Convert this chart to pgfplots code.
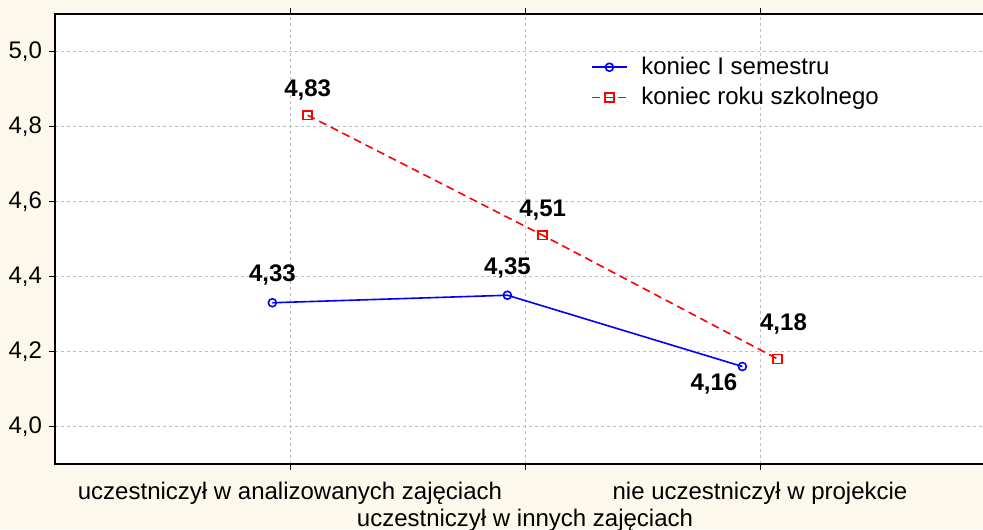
\documentclass[border=0pt]{standalone}
\usepackage{pgfplots}
\pgfplotsset{compat=1.18}
\usepackage{fontspec}
\setmainfont{Liberation Sans}
\definecolor{bgcream}{RGB}{253,248,236}
\definecolor{gridgray}{RGB}{190,190,190}

\begin{document}
\begin{tikzpicture}
\fill[bgcream] (-27.5pt,-32.5pt) rectangle (470pt,232pt);
\begin{axis}[
  scale only axis, width=470pt, height=225pt,
  xmin=0, xmax=4, ymin=3.9, ymax=5.1,
  axis background/.style={fill=white},
  axis line style={line width=1pt},
  xtick={1,2,3},
  xticklabels={{\strut uczestniczył w analizowanych zajęciach},
    {\strut\\\strut uczestniczył w innych zajęciach},
    {\strut nie uczestniczył w projekcie}},
  xticklabel style={align=center, anchor=north, yshift=-2pt},
  ytick={4,4.2,4.4,4.6,4.8,5},
  ticklabel style={font=\fontsize{12}{13.5}\selectfont},
  /pgf/number format/.cd, fixed, fixed zerofill, precision=1, use comma, assume math mode=true,
  /pgfplots/.cd,
  grid=major,
  major grid style={gridgray, line width=0.4pt, dash pattern=on 1.5pt off 1.5pt},
  tick align=outside, major tick length=3pt,
  tick style={black, line width=0.5pt},
  legend style={at={(0.564,0.923)}, anchor=north west, draw=none, fill=none,
    font=\fontsize{12}{14}\selectfont, row sep=1pt,
    /tikz/every odd column/.append style={column sep=5pt}},
  legend cell align=left,
]
% koniec I semestru (przesunięte w lewo)
\addplot[blue, line width=0.8pt, mark=o, mark size=2pt, mark options={fill=white}]
  coordinates {(0.925,4.33) (1.925,4.35) (2.925,4.16)};
\addlegendentry{koniec I semestru}
% koniec roku szkolnego (przesunięte w prawo)
\addplot[red, line width=0.8pt, dash pattern=on 4pt off 2.5pt, mark=square, mark size=2.2pt,
  mark options={solid, fill=white}]
  coordinates {(1.075,4.83) (2.075,4.51) (3.075,4.18)};
\addlegendentry{koniec roku szkolnego}

\begin{scope}[every node/.style={font=\bfseries\fontsize{12}{14}\selectfont}]
\node[anchor=south] at (axis cs:0.925,4.33) [yshift=5pt] {4,33};
\node[anchor=south] at (axis cs:1.925,4.35) [yshift=5pt] {4,35};
\node[anchor=south] at (axis cs:1.075,4.83) [yshift=4pt] {4,83};
\node[anchor=south] at (axis cs:2.075,4.51) [yshift=4pt] {4,51};
\node[anchor=south] at (axis cs:3.1,4.18) [yshift=9pt] {4,18};
\node[anchor=north east] at (axis cs:2.925,4.16) [xshift=1pt,yshift=0pt] {4,16};
\end{scope}
\end{axis}
\pgfresetboundingbox
\path[use as bounding box] (-27.5pt,-32.5pt) rectangle (464pt,232pt);
\end{tikzpicture}
\end{document}
